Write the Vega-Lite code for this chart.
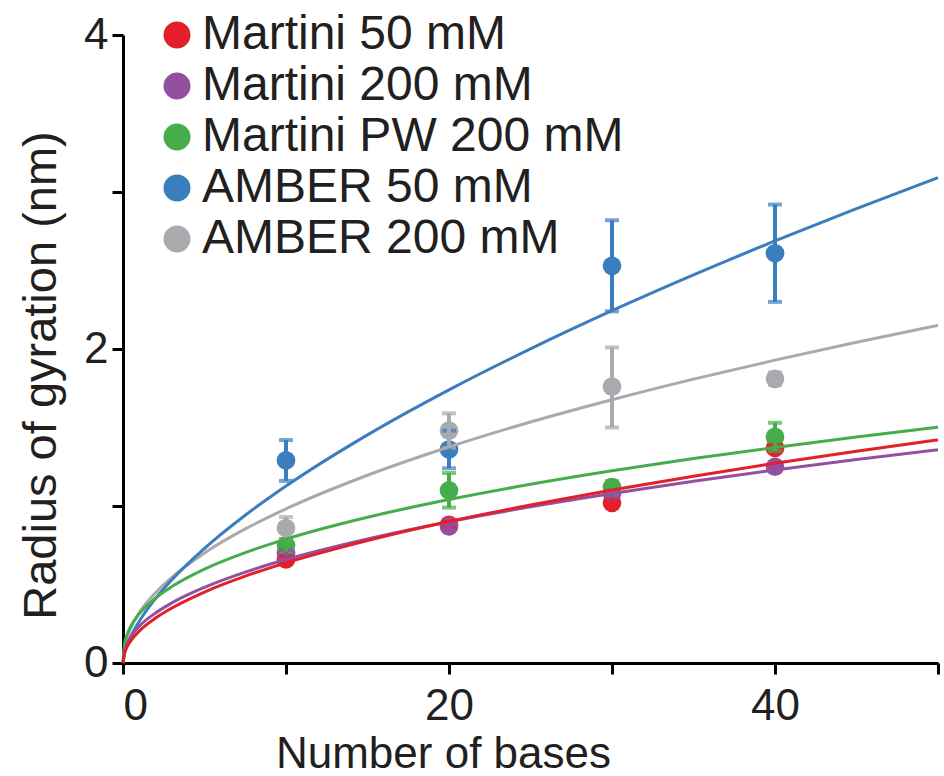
{
  "$schema": "https://vega.github.io/schema/vega-lite/v6.json",
  "width": 815,
  "height": 628,
  "autosize": {"type": "none"},
  "padding": {"left": 123, "top": 35, "right": 6, "bottom": 113},
  "background": "white",
  "config": {
    "view": {"stroke": null},
    "font": "Liberation Sans",
    "axis": {
      "grid": false,
      "domainColor": "#000000",
      "domainWidth": 3,
      "tickColor": "#000000",
      "tickWidth": 3,
      "tickSize": 11,
      "labelColor": "#231F20",
      "labelFont": "Liberation Sans",
      "labelFontSize": 44,
      "titleColor": "#231F20",
      "titleFont": "Liberation Sans",
      "titleFontWeight": "normal"
    },
    "legend": {
      "labelFont": "Liberation Sans",
      "labelFontSize": 48,
      "labelColor": "#231F20"
    }
  },
  "datasets": {
    "pts": [
      {"s": "Martini 50 mM", "x": 10, "y": 0.66, "lo": 0.64, "hi": 0.68},
      {"s": "Martini 50 mM", "x": 20, "y": 0.88, "lo": 0.86, "hi": 0.90},
      {"s": "Martini 50 mM", "x": 30, "y": 1.02, "lo": 1.00, "hi": 1.04},
      {"s": "Martini 50 mM", "x": 40, "y": 1.37, "lo": 1.35, "hi": 1.39},
      {"s": "Martini 200 mM", "x": 10, "y": 0.70, "lo": 0.68, "hi": 0.72},
      {"s": "Martini 200 mM", "x": 20, "y": 0.87, "lo": 0.85, "hi": 0.89},
      {"s": "Martini 200 mM", "x": 30, "y": 1.08, "lo": 1.06, "hi": 1.10},
      {"s": "Martini 200 mM", "x": 40, "y": 1.25, "lo": 1.23, "hi": 1.27},
      {"s": "Martini PW 200 mM", "x": 10, "y": 0.75, "lo": 0.71, "hi": 0.79},
      {"s": "Martini PW 200 mM", "x": 20, "y": 1.10, "lo": 0.99, "hi": 1.21},
      {"s": "Martini PW 200 mM", "x": 30, "y": 1.12, "lo": 1.08, "hi": 1.16},
      {"s": "Martini PW 200 mM", "x": 40, "y": 1.44, "lo": 1.35, "hi": 1.53},
      {"s": "AMBER 50 mM", "x": 10, "y": 1.29, "lo": 1.16, "hi": 1.42},
      {"s": "AMBER 50 mM", "x": 20, "y": 1.36, "lo": 1.24, "hi": 1.48},
      {"s": "AMBER 50 mM", "x": 30, "y": 2.53, "lo": 2.24, "hi": 2.82},
      {"s": "AMBER 50 mM", "x": 40, "y": 2.61, "lo": 2.30, "hi": 2.92},
      {"s": "AMBER 200 mM", "x": 10, "y": 0.86, "lo": 0.79, "hi": 0.93},
      {"s": "AMBER 200 mM", "x": 20, "y": 1.48, "lo": 1.37, "hi": 1.59},
      {"s": "AMBER 200 mM", "x": 30, "y": 1.76, "lo": 1.50, "hi": 2.01},
      {"s": "AMBER 200 mM", "x": 40, "y": 1.81, "lo": 1.77, "hi": 1.85}
    ],
    "fits": [
      {"s": "AMBER 200 mM", "x": 0, "y": 0},
      {"s": "AMBER 200 mM", "x": 0.1, "y": 0.104},
      {"s": "AMBER 200 mM", "x": 0.25, "y": 0.163},
      {"s": "AMBER 200 mM", "x": 0.5, "y": 0.228},
      {"s": "AMBER 200 mM", "x": 1, "y": 0.320},
      {"s": "AMBER 200 mM", "x": 2, "y": 0.448},
      {"s": "AMBER 200 mM", "x": 3, "y": 0.546},
      {"s": "AMBER 200 mM", "x": 5, "y": 0.701},
      {"s": "AMBER 200 mM", "x": 7.5, "y": 0.854},
      {"s": "AMBER 200 mM", "x": 10, "y": 0.982},
      {"s": "AMBER 200 mM", "x": 15, "y": 1.196},
      {"s": "AMBER 200 mM", "x": 20, "y": 1.376},
      {"s": "AMBER 200 mM", "x": 25, "y": 1.535},
      {"s": "AMBER 200 mM", "x": 30, "y": 1.677},
      {"s": "AMBER 200 mM", "x": 35, "y": 1.808},
      {"s": "AMBER 200 mM", "x": 40, "y": 1.929},
      {"s": "AMBER 200 mM", "x": 45, "y": 2.043},
      {"s": "AMBER 200 mM", "x": 50, "y": 2.151},
      {"s": "AMBER 50 mM", "x": 0, "y": 0},
      {"s": "AMBER 50 mM", "x": 0.1, "y": 0.063},
      {"s": "AMBER 50 mM", "x": 0.25, "y": 0.112},
      {"s": "AMBER 50 mM", "x": 0.5, "y": 0.172},
      {"s": "AMBER 50 mM", "x": 1, "y": 0.266},
      {"s": "AMBER 50 mM", "x": 2, "y": 0.411},
      {"s": "AMBER 50 mM", "x": 3, "y": 0.530},
      {"s": "AMBER 50 mM", "x": 5, "y": 0.730},
      {"s": "AMBER 50 mM", "x": 7.5, "y": 0.941},
      {"s": "AMBER 50 mM", "x": 10, "y": 1.127},
      {"s": "AMBER 50 mM", "x": 15, "y": 1.453},
      {"s": "AMBER 50 mM", "x": 20, "y": 1.740},
      {"s": "AMBER 50 mM", "x": 25, "y": 2.001},
      {"s": "AMBER 50 mM", "x": 30, "y": 2.244},
      {"s": "AMBER 50 mM", "x": 35, "y": 2.472},
      {"s": "AMBER 50 mM", "x": 40, "y": 2.688},
      {"s": "AMBER 50 mM", "x": 45, "y": 2.894},
      {"s": "AMBER 50 mM", "x": 50, "y": 3.091},
      {"s": "Martini PW 200 mM", "x": 0, "y": 0},
      {"s": "Martini PW 200 mM", "x": 0.1, "y": 0.125},
      {"s": "Martini PW 200 mM", "x": 0.25, "y": 0.180},
      {"s": "Martini PW 200 mM", "x": 0.5, "y": 0.238},
      {"s": "Martini PW 200 mM", "x": 1, "y": 0.314},
      {"s": "Martini PW 200 mM", "x": 2, "y": 0.414},
      {"s": "Martini PW 200 mM", "x": 3, "y": 0.487},
      {"s": "Martini PW 200 mM", "x": 5, "y": 0.598},
      {"s": "Martini PW 200 mM", "x": 7.5, "y": 0.703},
      {"s": "Martini PW 200 mM", "x": 10, "y": 0.789},
      {"s": "Martini PW 200 mM", "x": 15, "y": 0.928},
      {"s": "Martini PW 200 mM", "x": 20, "y": 1.041},
      {"s": "Martini PW 200 mM", "x": 25, "y": 1.138},
      {"s": "Martini PW 200 mM", "x": 30, "y": 1.224},
      {"s": "Martini PW 200 mM", "x": 35, "y": 1.302},
      {"s": "Martini PW 200 mM", "x": 40, "y": 1.373},
      {"s": "Martini PW 200 mM", "x": 45, "y": 1.439},
      {"s": "Martini PW 200 mM", "x": 50, "y": 1.502},
      {"s": "Martini 200 mM", "x": 0, "y": 0},
      {"s": "Martini 200 mM", "x": 0.1, "y": 0.083},
      {"s": "Martini 200 mM", "x": 0.25, "y": 0.125},
      {"s": "Martini 200 mM", "x": 0.5, "y": 0.171},
      {"s": "Martini 200 mM", "x": 1, "y": 0.234},
      {"s": "Martini 200 mM", "x": 2, "y": 0.319},
      {"s": "Martini 200 mM", "x": 3, "y": 0.383},
      {"s": "Martini 200 mM", "x": 5, "y": 0.482},
      {"s": "Martini 200 mM", "x": 7.5, "y": 0.579},
      {"s": "Martini 200 mM", "x": 10, "y": 0.659},
      {"s": "Martini 200 mM", "x": 15, "y": 0.790},
      {"s": "Martini 200 mM", "x": 20, "y": 0.900},
      {"s": "Martini 200 mM", "x": 25, "y": 0.995},
      {"s": "Martini 200 mM", "x": 30, "y": 1.080},
      {"s": "Martini 200 mM", "x": 35, "y": 1.158},
      {"s": "Martini 200 mM", "x": 40, "y": 1.229},
      {"s": "Martini 200 mM", "x": 45, "y": 1.296},
      {"s": "Martini 200 mM", "x": 50, "y": 1.359},
      {"s": "Martini 50 mM", "x": 0, "y": 0},
      {"s": "Martini 50 mM", "x": 0.1, "y": 0.064},
      {"s": "Martini 50 mM", "x": 0.25, "y": 0.102},
      {"s": "Martini 50 mM", "x": 0.5, "y": 0.144},
      {"s": "Martini 50 mM", "x": 1, "y": 0.203},
      {"s": "Martini 50 mM", "x": 2, "y": 0.286},
      {"s": "Martini 50 mM", "x": 3, "y": 0.350},
      {"s": "Martini 50 mM", "x": 5, "y": 0.452},
      {"s": "Martini 50 mM", "x": 7.5, "y": 0.553},
      {"s": "Martini 50 mM", "x": 10, "y": 0.638},
      {"s": "Martini 50 mM", "x": 15, "y": 0.780},
      {"s": "Martini 50 mM", "x": 20, "y": 0.901},
      {"s": "Martini 50 mM", "x": 25, "y": 1.006},
      {"s": "Martini 50 mM", "x": 30, "y": 1.102},
      {"s": "Martini 50 mM", "x": 35, "y": 1.190},
      {"s": "Martini 50 mM", "x": 40, "y": 1.272},
      {"s": "Martini 50 mM", "x": 45, "y": 1.349},
      {"s": "Martini 50 mM", "x": 50, "y": 1.421}
    ]
  },
  "encoding": {
    "x": {
      "field": "x",
      "type": "quantitative",
      "scale": {"domain": [0, 50], "nice": false, "zero": true},
      "axis": {
        "title": "Number of bases",
        "values": [0, 10, 20, 30, 40, 50],
        "labelExpr": "datum.value % 20 === 0 ? datum.label : ''",
        "labelPadding": 10,
        "titleFontSize": 44,
        "titleX": 320,
        "titleY": 104,
        "titleAlign": "center",
        "titleBaseline": "alphabetic"
      }
    }
  },
  "layer": [
    {
      "data": {"name": "pts"},
      "mark": {"type": "point", "filled": true, "shape": "circle", "size": 350, "opacity": 1},
      "encoding": {
        "y": {
          "field": "y",
          "type": "quantitative",
          "title": "Radius of gyration (nm)",
          "scale": {"domain": [0, 4], "nice": false},
          "axis": {
            "values": [0, 1, 2, 3, 4],
            "format": "d",
            "labelExpr": "datum.value % 2 === 0 ? datum.label : ''",
            "labelPadding": 4,
            "titleFontSize": 47,
            "titleX": -68,
            "titleY": 340,
            "titleAlign": "center",
            "titleBaseline": "alphabetic",
            "titleAngle": -90
          }
        },
        "color": {
          "field": "s",
          "type": "nominal",
          "scale": {
            "domain": ["Martini 50 mM", "Martini 200 mM", "Martini PW 200 mM", "AMBER 50 mM", "AMBER 200 mM"],
            "range": ["#E3202A", "#9450A0", "#45AD4A", "#3A7EBE", "#A8AAAD"]
          },
          "legend": {
            "title": null,
            "orient": "none",
            "legendX": 30,
            "legendY": -24,
            "symbolType": "circle",
            "symbolSize": 729,
            "symbolStrokeWidth": 0,
            "labelOffset": 1,
            "rowPadding": 3,
            "padding": 0,
            "labelLimit": 600
          }
        }
      }
    },
    {
      "data": {"name": "pts"},
      "mark": {"type": "errorbar", "ticks": {"size": 14, "thickness": 4}, "rule": {"strokeWidth": 4}, "thickness": 4},
      "encoding": {
        "y": {"field": "lo", "type": "quantitative", "title": "Radius of gyration (nm)"},
        "y2": {"field": "hi"},
        "color": {"field": "s", "type": "nominal", "legend": null}
      }
    },
    {
      "data": {"name": "fits"},
      "mark": {"type": "line", "strokeWidth": 3, "interpolate": "monotone"},
      "encoding": {
        "y": {"field": "y", "type": "quantitative", "title": "Radius of gyration (nm)"},
        "color": {"field": "s", "type": "nominal", "legend": null}
      }
    }
  ]
}
